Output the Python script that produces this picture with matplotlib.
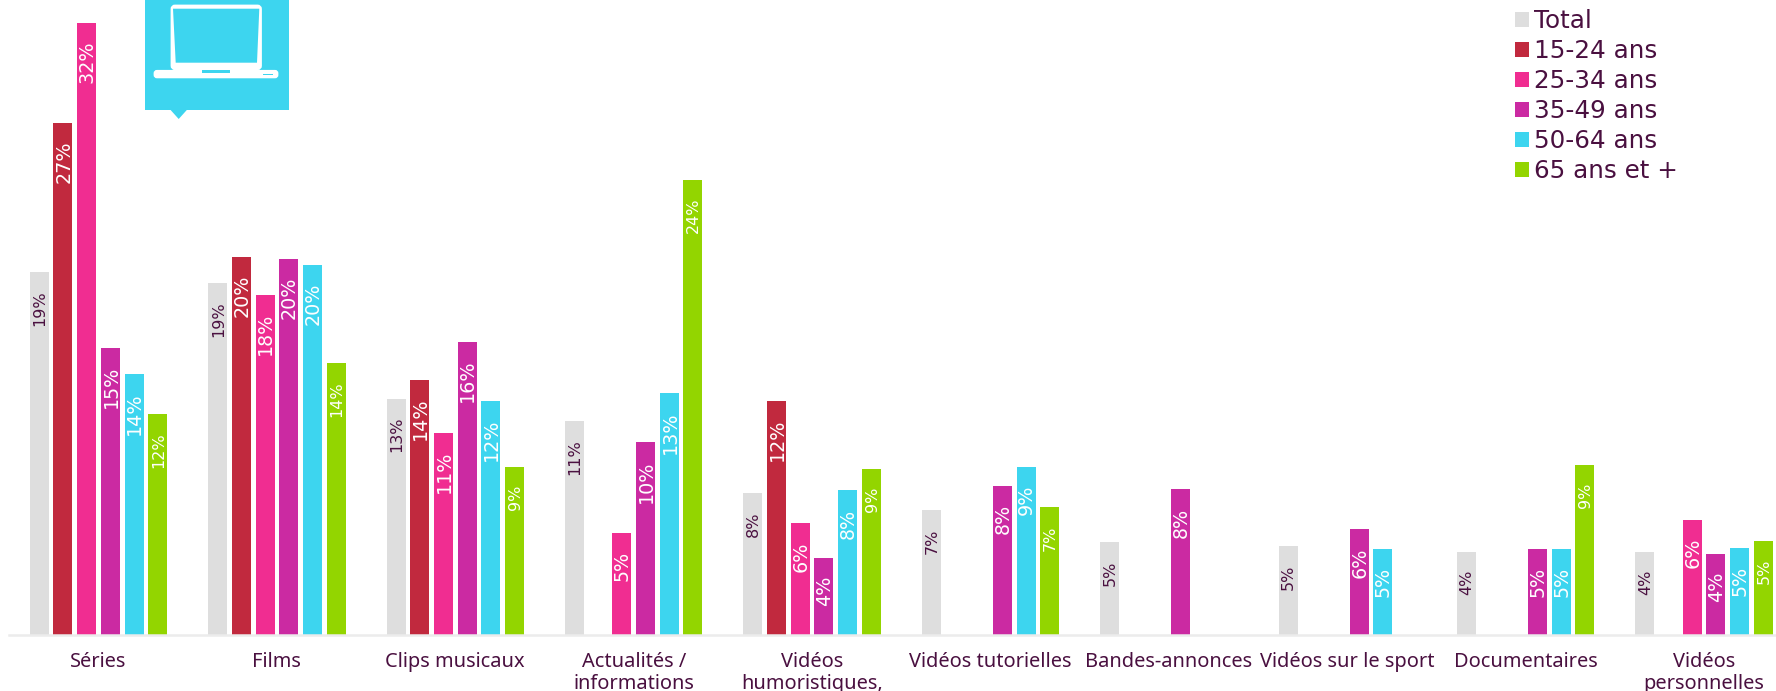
import numpy as np
import matplotlib
matplotlib.use('Agg')
import matplotlib.pyplot as plt
from matplotlib.patches import Patch, Polygon, Rectangle, FancyBboxPatch

categories = ['Séries', 'Films', 'Clips musicaux', 'Actualités /\ninformations',
              'Vidéos\nhumoristiques,', 'Vidéos tutorielles', 'Bandes-annonces',
              'Vidéos sur le sport', 'Documentaires', 'Vidéos\npersonnelles']

nan = np.nan
total = [19.2, 18.6, 12.51, 11.3, 7.51, 6.6, 4.9, 4.7, 4.4, 4.4]
age_15_24 = [27.1, 20.0, 13.51, nan, 12.4, nan, nan, nan, nan, nan]
age_25_34 = [32.4, 18.0, 10.7, 5.4, 5.9, nan, nan, nan, nan, 6.1]
age_35_49 = [15.2, 19.9, 15.51, 10.2, 4.1, 7.9, 7.7, 5.6, 4.55, 4.3]
age_50_64 = [13.8, 19.6, 12.4, 12.8, 7.65, 8.9, nan, 4.55, 4.55, 4.6]
age_65 = [11.7, 14.4, 8.9, 24.1, 8.8, 6.75, nan, nan, 9.0, 5.0]

series = [('Total', total, '#dedede'),
          ('15-24 ans', age_15_24, '#c1293e'),
          ('25-34 ans', age_25_34, '#f02d91'),
          ('35-49 ans', age_35_49, '#cb2aa2'),
          ('50-64 ans', age_50_64, '#3dd5ef'),
          ('65 ans et +', age_65, '#93d500')]

W, H = 1776, 691
DARK = '#4a1040'
BASE_PX = 635
GROUP_PX = 178.4
STEP_PX = 23.7
BAR_PX = 19

fig = plt.figure(figsize=(W / 100, H / 100), dpi=100, facecolor='white')
ax = fig.add_axes([0, (H - BASE_PX) / H, 1, BASE_PX / H])
ax.set_xlim(-98.5 / GROUP_PX, (W - 98.5) / GROUP_PX)
ax.set_ylim(0, BASE_PX / 18.9)

x = np.arange(len(categories))
for k, (name, vals, col) in enumerate(series):
    off = (k - 2.5) * STEP_PX / GROUP_PX
    bars = ax.bar(x + off, vals, BAR_PX / GROUP_PX, color=col, label=name)
    # grey and green columns carry a smaller label
    small = k in (0, 5)
    txt_col = DARK if k == 0 else 'white'
    for xi, v in zip(x, vals):
        if np.isnan(v):
            continue
        ax.annotate(f'{v:.0f}%', (xi + off, v), xytext=(0.5, -13), textcoords='offset points',
                    rotation=90, ha='center', va='top', color=txt_col,
                    fontsize=11.5 if small else 13.8)

for s in ['top', 'left', 'right']:
    ax.spines[s].set_visible(False)
ax.spines['bottom'].set_color('#ececec')
ax.spines['bottom'].set_linewidth(1.8)
ax.spines['bottom'].set_bounds(-89 / GROUP_PX, (W - 98.5) / GROUP_PX)
ax.set_yticks([])
ax.set_xticks(x)
ax.set_xticklabels(categories, fontsize=14.4, color=DARK, family='Noto Sans', linespacing=1.17)
ax.tick_params(axis='x', length=0, pad=12)

handles = [Patch(facecolor=c, label=n) for n, _, c in series]
ax.legend(handles=handles, loc='upper left', bbox_to_anchor=(1515 / W, 1 - 9.5 / H),
          bbox_transform=fig.transFigure, frameon=False, fontsize=17.7, labelcolor=DARK,
          borderpad=0, borderaxespad=0, handlelength=0.57, handleheight=0.57,
          handletextpad=0.2, labelspacing=0.24)

# laptop badge, laid out in pixels
deco = fig.add_axes([0, 0, 1, 1], zorder=3)
deco.set_xlim(0, W)
deco.set_ylim(H, 0)
deco.axis('off')
badge = '#3dd5ef'
deco.add_patch(Rectangle((144.5, -2), 144, 111.7, color=badge, lw=0))
deco.add_patch(Polygon([(169.7, 109), (187.7, 109), (178.7, 119)], color=badge, lw=0))
deco.add_patch(FancyBboxPatch((172, 6), 88.5, 62.7, boxstyle='round,pad=0,rounding_size=3',
                              fc='white', ec='white', lw=2))
deco.add_patch(Polygon([(173, 8.7), (259.3, 8.7), (257, 62.7), (175.7, 62.7)], color=badge, lw=0))
deco.add_patch(FancyBboxPatch((155, 71.3), 122, 5.6, boxstyle='round,pad=0,rounding_size=2',
                              fc='white', ec='white', lw=2))
deco.add_patch(Rectangle((201.7, 70), 28.7, 3.2, color=badge, lw=0))
deco.add_patch(Rectangle((263.3, 74), 9.5, 1, color=badge, lw=0))

fig.savefig('out.png', dpi=100)
